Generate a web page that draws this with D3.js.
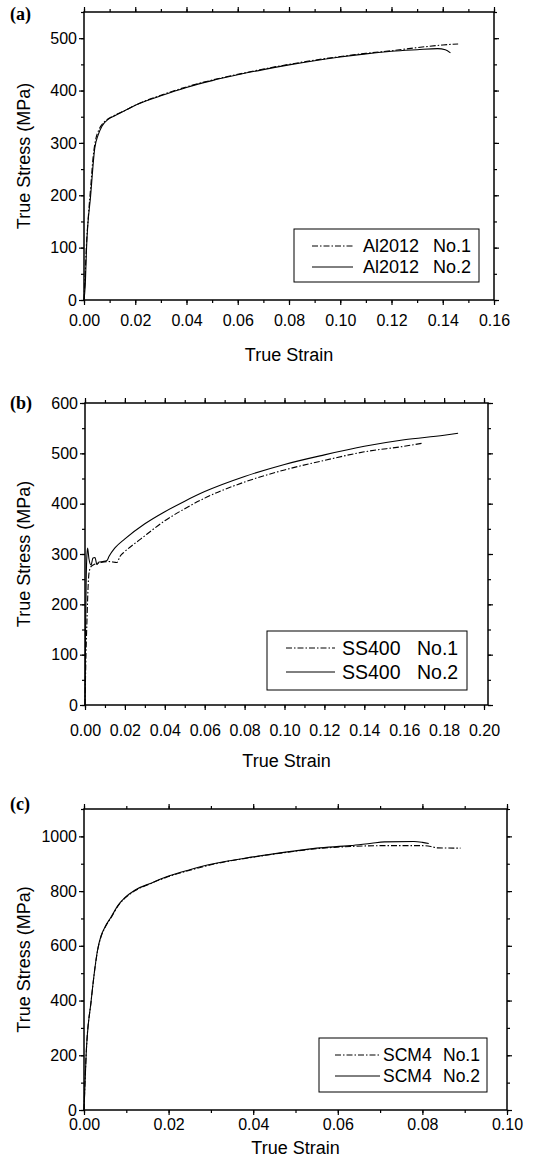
<!DOCTYPE html>
<html>
<head>
<meta charset="utf-8">
<script src="https://cdn.jsdelivr.net/npm/d3@7"></script>
<style>
  body { margin: 0; background: #fff; }
  svg { display: block; }
  text { font-family: "Liberation Sans", Arial, sans-serif; fill: #000; }
  .panel-tag { font-family: "Liberation Serif", "Times New Roman", serif; font-weight: bold; }
</style>
</head>
<body>
<svg id="chart" width="540" height="1167"></svg>
<script>
// Stress-strain readings, [true strain, true stress MPa]
const al2012No1 = [[0,0],[0.0004,40],[0.0009,100],[0.0017,160],[0.0026,215],[0.0036,275],[0.0045,305],[0.0058,325],[0.0075,338],[0.0095,346],[0.012,353],[0.016,362],[0.02,372],[0.03,391],[0.04,407],[0.05,420],[0.06,431],[0.07,441],[0.08,450],[0.09,458],[0.10,465],[0.11,471],[0.12,476],[0.13,482],[0.14,487],[0.146,489]];
const al2012No2 = [[0,0],[0.0005,30],[0.0010,100],[0.0026,200],[0.0042,290],[0.0055,315],[0.007,332],[0.0094,345],[0.012,352],[0.016,362],[0.02,372],[0.03,390],[0.04,406],[0.05,419],[0.06,430],[0.07,440],[0.08,449],[0.09,457],[0.10,464],[0.11,470],[0.12,475],[0.13,478],[0.138,480],[0.141,478],[0.143,472]];

const ss400No1 = [[0,0],[0.0005,100],[0.001,170],[0.0015,230],[0.002,262],[0.003,275],[0.005,280],[0.008,283],[0.012,285],[0.016,283],[0.0175,295],[0.02,305],[0.028,330],[0.04,366],[0.05,390],[0.06,411],[0.08,443],[0.10,467],[0.12,486],[0.14,503],[0.16,514],[0.169,520]];
const ss400No2 = [[0,0],[0.0003,150],[0.0006,250],[0.001,300],[0.0013,312],[0.002,290],[0.003,278],[0.004,292],[0.005,293],[0.006,279],[0.007,284],[0.009,285],[0.011,287],[0.012,295],[0.015,312],[0.02,330],[0.03,360],[0.04,384],[0.05,405],[0.06,424],[0.08,454],[0.10,478],[0.12,497],[0.14,514],[0.16,527],[0.18,536],[0.187,540]];

const scm4No1 = [[0,0],[0.0005,200],[0.0017,400],[0.0033,590],[0.004,632],[0.005,668],[0.0064,703],[0.008,745],[0.0096,773],[0.012,801],[0.016,829],[0.02,853],[0.025,876],[0.03,896],[0.04,924],[0.049,944],[0.055,955],[0.063,963],[0.07,966],[0.08,966],[0.082,963],[0.0835,958],[0.089,957]];
const scm4No2 = [[0,0],[0.0005,200],[0.0017,400],[0.0033,592],[0.004,635],[0.005,670],[0.0064,705],[0.008,747],[0.0096,775],[0.012,803],[0.016,830],[0.02,855],[0.025,878],[0.03,898],[0.04,925],[0.049,945],[0.055,957],[0.063,966],[0.068,975],[0.071,980],[0.078,981],[0.080,978],[0.0815,974]];

const alNames = ["Al2012", "Al2012"];
const ssNames = ["SS400", "SS400"];
const scmNames = ["SCM4", "SCM4"];
const specimenNos = ["No.1", "No.2"];

const panels = [
  {
    tag: "(a)", tagY: 20,
    box: { l: 84, r: 494, t: 12, b: 300 },
    xDomain: [0, 0.16], yDomain: [0, 550],
    xMajor: d3.range(0, 9).map(i => i * 0.02),
    xMinor: d3.range(0, 17).map(i => i * 0.01),
    yMajor: d3.range(0, 6).map(i => i * 100),
    yMinor: d3.range(0, 12).map(i => i * 50),
    xPad: 10, xTitleY: 361,
    series: [al2012No1, al2012No2], names: alNames,
    legend: { x: 294, y: 229, w: 185, h: 53, fs: 18, l1: 312, l2: 353, t1: 363, t2: 433, rows: [246, 267] }
  },
  {
    tag: "(b)", tagY: 409,
    box: { l: 85, r: 488, t: 403, b: 705 },
    xDomain: [0, 0.202], yDomain: [0, 600],
    xMajor: d3.range(0, 11).map(i => i * 0.02),
    xMinor: d3.range(0, 21).map(i => i * 0.01),
    yMajor: d3.range(0, 7).map(i => i * 100),
    yMinor: d3.range(0, 13).map(i => i * 50),
    xPad: 15, xTitleY: 767,
    series: [ss400No1, ss400No2], names: ssNames,
    legend: { x: 267, y: 631, w: 200, h: 59, fs: 19.5, l1: 286, l2: 335, t1: 342, t2: 417, rows: [648, 672] }
  },
  {
    tag: "(c)", tagY: 810,
    box: { l: 84, r: 507, t: 809, b: 1110 },
    xDomain: [0, 0.10], yDomain: [0, 1100],
    xMajor: d3.range(0, 6).map(i => i * 0.02),
    xMinor: d3.range(0, 11).map(i => i * 0.01),
    yMajor: d3.range(0, 6).map(i => i * 200),
    yMinor: d3.range(0, 12).map(i => i * 100),
    xPad: 4, xTitleY: 1154,
    series: [scm4No1, scm4No2], names: scmNames,
    legend: { x: 319, y: 1038, w: 168, h: 54, fs: 17.5, l1: 335, l2: 380, t1: 383, t2: 443, rows: [1055, 1076] }
  }
];

const dashes = ["6,2,1.5,2", null];
const svg = d3.select("#chart");

panels.forEach(p => {
  const g = svg.append("g");
  const x = d3.scaleLinear().domain(p.xDomain).range([p.box.l, p.box.r]);
  const y = d3.scaleLinear().domain(p.yDomain).range([p.box.b, p.box.t]);

  // minor ticks on all four sides, pointing outwards
  const minor = [
    d3.axisBottom(x).tickValues(p.xMinor).tickSize(3).tickFormat(""),
    d3.axisTop(x).tickValues(p.xMinor).tickSize(3).tickFormat(""),
    d3.axisLeft(y).tickValues(p.yMinor).tickSize(3).tickFormat(""),
    d3.axisRight(y).tickValues(p.yMinor).tickSize(3).tickFormat("")
  ];
  const minorPos = [`translate(0,${p.box.b})`, `translate(0,${p.box.t})`, `translate(${p.box.l},0)`, `translate(${p.box.r},0)`];
  minor.forEach((ax, i) => {
    g.append("g").attr("transform", minorPos[i]).call(ax)
      .call(s => s.select(".domain").remove());
  });

  // major ticks with labels
  g.append("g").attr("transform", `translate(0,${p.box.b})`)
    .call(d3.axisBottom(x).tickValues(p.xMajor).tickSize(5).tickPadding(p.xPad).tickFormat(d3.format(".2f")))
    .call(s => s.select(".domain").remove())
    .selectAll("text").style("font-size", "16px").style("font-family", "Liberation Sans, Arial, sans-serif");

  g.append("g").attr("transform", `translate(${p.box.l},0)`)
    .call(d3.axisLeft(y).tickValues(p.yMajor).tickSize(5).tickPadding(2).tickFormat(d3.format("d")))
    .call(s => s.select(".domain").remove())
    .selectAll("text").style("font-size", "16px").style("font-family", "Liberation Sans, Arial, sans-serif");

  g.append("g").attr("transform", `translate(0,${p.box.t})`)
    .call(d3.axisTop(x).tickValues(p.xMajor).tickSize(5).tickFormat(""))
    .call(s => s.select(".domain").remove());
  g.append("g").attr("transform", `translate(${p.box.r},0)`)
    .call(d3.axisRight(y).tickValues(p.yMajor).tickSize(5).tickFormat(""))
    .call(s => s.select(".domain").remove());

  g.selectAll(".tick line").attr("stroke", "#000").attr("stroke-width", 1.2);

  // plot frame
  g.append("rect")
    .attr("x", p.box.l).attr("y", p.box.t)
    .attr("width", p.box.r - p.box.l).attr("height", p.box.b - p.box.t)
    .attr("fill", "none").attr("stroke", "#000").attr("stroke-width", 1.5);

  // curves
  const line = d3.line().curve(d3.curveMonotoneX).x(d => x(d[0])).y(d => y(d[1]));
  p.series.forEach((s, i) => {
    g.append("path").datum(s)
      .attr("d", line)
      .attr("fill", "none")
      .attr("stroke", "#000")
      .attr("stroke-width", 1.1)
      .attr("stroke-dasharray", dashes[i]);
  });

  // axis titles
  g.append("text")
    .attr("x", (p.box.l + p.box.r) / 2).attr("y", p.xTitleY)
    .attr("text-anchor", "middle").style("font-size", "18px")
    .text("True Strain");
  g.append("text")
    .attr("transform", `translate(24,${(p.box.t + p.box.b) / 2}) rotate(-90)`)
    .attr("text-anchor", "middle").attr("dy", "0.35em").style("font-size", "18px")
    .text("True Stress (MPa)");

  // panel tag
  g.append("text").attr("class", "panel-tag")
    .attr("x", 10).attr("y", p.tagY).style("font-size", "18px").text(p.tag);

  // legend
  const L = p.legend;
  g.append("rect").attr("x", L.x).attr("y", L.y).attr("width", L.w).attr("height", L.h)
    .attr("fill", "#fff").attr("stroke", "#000").attr("stroke-width", 1);
  L.rows.forEach((ry, i) => {
    g.append("line").attr("x1", L.l1).attr("x2", L.l2).attr("y1", ry).attr("y2", ry)
      .attr("stroke", "#000").attr("stroke-width", 1).attr("stroke-dasharray", dashes[i]);
    g.append("text").attr("x", L.t1).attr("y", ry).attr("dy", "0.35em")
      .style("font-size", L.fs + "px").text(p.names[i]);
    g.append("text").attr("x", L.t2).attr("y", ry).attr("dy", "0.35em")
      .style("font-size", L.fs + "px").text(specimenNos[i]);
  });
});
</script>
</body>
</html>
